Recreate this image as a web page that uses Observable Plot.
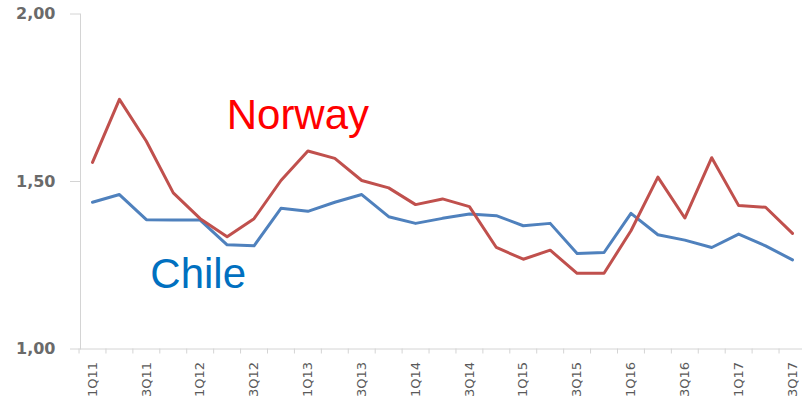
<!DOCTYPE html>
<html>
<head>
<meta charset="utf-8">
<script src="https://cdn.jsdelivr.net/npm/d3@7"></script>
<script src="https://cdn.jsdelivr.net/npm/@observablehq/plot@0.6"></script>
<style>
  html, body { margin: 0; padding: 0; background: #fff; }
  #chart svg { display: block; }
</style>
</head>
<body>
<div id="chart"></div>
<script>
const quarters = ["1Q11","2Q11","3Q11","4Q11","1Q12","2Q12","3Q12","4Q12","1Q13","2Q13","3Q13","4Q13","1Q14","2Q14","3Q14","4Q14","1Q15","2Q15","3Q15","4Q15","1Q16","2Q16","3Q16","4Q16","1Q17","2Q17","3Q17"];
const norway = [1.557,1.745,1.62,1.466,1.389,1.335,1.389,1.503,1.591,1.569,1.503,1.481,1.431,1.448,1.425,1.303,1.268,1.295,1.226,1.226,1.353,1.513,1.391,1.571,1.428,1.423,1.345];
const chile = [1.438,1.461,1.386,1.385,1.385,1.311,1.308,1.42,1.411,1.438,1.461,1.395,1.375,1.39,1.403,1.398,1.368,1.375,1.285,1.288,1.405,1.341,1.325,1.303,1.343,1.308,1.266];
const yTicks = [1, 1.5, 2];

const data = quarters.map((q, i) => ({i, q, norway: norway[i], chile: chile[i]}));
const labelIdx = quarters.map((q, i) => i).filter(i => i % 2 === 0);
const boundaryIdx = quarters.map((q, i) => i - 0.5);
const fmt = d => d.toFixed(2).replace(".", ",");

const chart = Plot.plot({
  width: 802,
  height: 403,
  marginLeft: 80,
  marginRight: 0,
  marginTop: 13.5,
  marginBottom: 54.5,
  style: {fontFamily: "DejaVu Sans", background: "white"},
  x: {type: "linear", domain: [0, quarters.length - 1], range: [92, 792], axis: null, label: null},
  y: {domain: [1, 2], axis: null, label: null},
  marks: [
    Plot.axisY({ticks: yTicks, tickSize: 10, tickFormat: () => "", stroke: "#d4d4d4", label: null}),
    Plot.axisY({ticks: yTicks, tickSize: 0, tickPadding: 25, tickFormat: fmt, fontSize: 16, fontWeight: "bold", color: "#6a6a6a", label: null}),
    Plot.frame({anchor: "left", stroke: "#d4d4d4"}),
    Plot.frame({anchor: "bottom", stroke: "#d4d4d4"}),
    Plot.axisX({ticks: boundaryIdx, tickSize: 5, tickFormat: () => "", stroke: "#d4d4d4", label: null}),
    Plot.axisX({ticks: labelIdx, tickSize: 0, tickPadding: 13, tickRotate: -90, tickFormat: i => quarters[i], fontSize: 13, color: "#5a5a5a", label: null}),
    Plot.line(data, {x: "i", y: "chile", stroke: "#4f81bd", strokeWidth: 3}),
    Plot.line(data, {x: "i", y: "norway", stroke: "#c0504d", strokeWidth: 3}),
    Plot.text(["Norway"], {x: () => quarters.indexOf("1Q13"), y: () => 1.658, dx: -10, lineAnchor: "bottom", textAnchor: "middle", fontSize: 42, fontFamily: "Liberation Sans", fill: "#ff0000"}),
    Plot.text(["Chile"], {x: () => quarters.indexOf("1Q12"), y: () => 1.1806, dx: -2, lineAnchor: "bottom", textAnchor: "middle", fontSize: 42, fontFamily: "Liberation Sans", fill: "#0070c0"})
  ]
});
document.getElementById("chart").append(chart);
</script>
</body>
</html>
